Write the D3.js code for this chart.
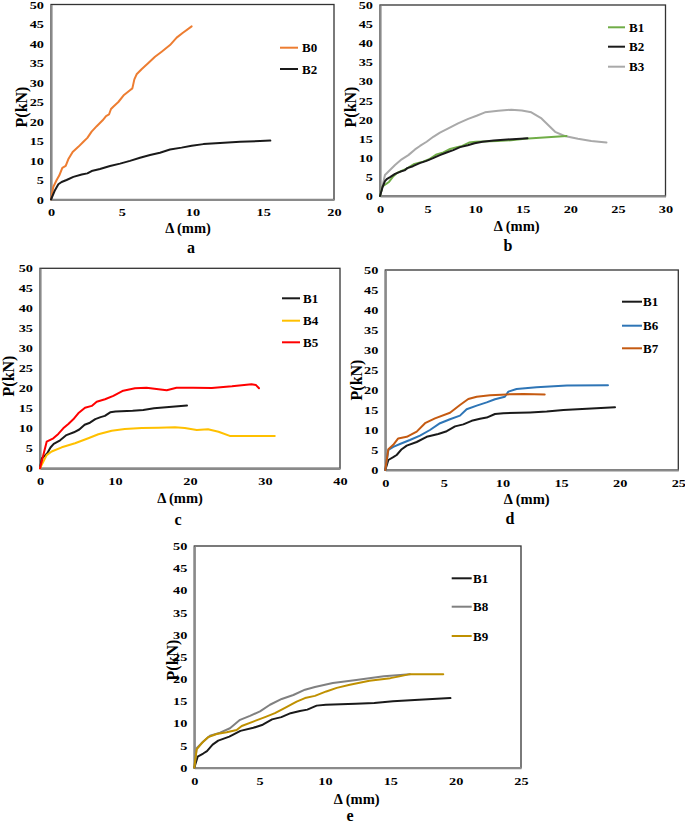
<!DOCTYPE html>
<html><head><meta charset="utf-8">
<script src="https://cdn.jsdelivr.net/npm/d3@7"></script>
<style>
body{margin:0;background:#fff}
svg{display:block}
text{font-family:"Liberation Serif","Times New Roman","DejaVu Serif",serif;font-weight:bold;fill:#000}
</style>
</head><body>
<svg id="chart" width="685" height="824"></svg>
<script>
// ---------- data ----------
const yTicks = [0,5,10,15,20,25,30,35,40,45,50];
const xTicksA = [0,5,10,15,20];
const xTicksB = [0,5,10,15,20,25,30];
const xTicksC = [0,10,20,30,40];
const xTicksD = [0,5,10,15,20,25];
const xTicksE = [0,5,10,15,20,25];
const panelLabels = ["a","b","c","d","e"];
const xTitle = "Δ (mm)";
const yTitle = "P(kN)";

const B0 = [[0,0],[0.16,3.2],[0.4,5],[0.59,6.2],[0.8,8.1],[1.04,8.6],[1.22,10.3],[1.53,12.2],[1.93,13.5],[2.29,14.8],[2.57,15.8],[2.87,17.4],[3.23,18.8],[3.65,20.3],[3.89,21.4],[4.1,21.8],[4.24,23.2],[4.4,23.8],[4.76,25],[5.16,26.8],[5.58,28],[5.75,28.5],[5.89,30.8],[6.05,32.1],[6.4,33.4],[6.88,35],[7.35,36.6],[7.82,37.9],[8.41,39.6],[8.88,41.5],[9.3,42.7],[9.94,44.4]];
const B1 = [[0,0],[0.26,2.5],[0.68,3.2],[0.97,3.75],[1.4,5.2],[1.83,6.1],[2.68,7.0],[3.53,8.3],[4.52,9.0],[5.24,9.7],[5.95,10.9],[6.66,11.4],[7.37,12.3],[8.08,12.8],[8.65,13.1],[9.36,14.0],[10.07,14.2],[12.35,14.4],[13.77,14.6],[15.2,15.0],[17.2,15.3],[19.6,15.7]];
const B2 = [[0,0],[0.28,2.4],[0.52,3.9],[0.75,4.5],[1.1,5.0],[1.58,5.8],[2.17,6.4],[2.57,6.7],[2.87,7.3],[3.46,7.8],[4.17,8.6],[4.88,9.2],[5.58,9.9],[6.29,10.7],[7.0,11.4],[7.7,12.0],[8.41,12.8],[9.23,13.3],[9.94,13.8],[10.77,14.2],[11.94,14.5],[13.36,14.8],[14.77,15.0],[15.5,15.1]];
const B3 = [[0,0],[0.25,2.4],[0.52,5.5],[1.05,6.8],[1.58,8.1],[2.28,9.6],[2.98,10.7],[3.68,12.2],[4.2,13.1],[4.9,14.2],[5.6,15.5],[6.3,16.6],[7.18,17.7],[8.2,19.0],[9.27,20.2],[10.15,21.0],[11.03,21.9],[12.43,22.3],[13.8,22.6],[14.9,22.4],[15.9,21.9],[16.97,20.3],[17.67,18.6],[18.4,16.8],[19.4,15.7],[20.8,15.0],[22.2,14.4],[23.8,14.0]];
const B4 = [[0,0],[0.89,3.3],[1.56,4.2],[2.9,5.25],[4.67,6.25],[6.44,7.5],[7.78,8.5],[9.56,9.4],[11.3,9.8],[13.56,10.1],[15.8,10.15],[18,10.25],[19.3,10.1],[20.9,9.6],[22.4,9.75],[23.8,9.15],[25.3,8.1],[26.9,8.1],[31.3,8.1]];
const B5 = [[0,0],[0.89,6.65],[1.78,7.5],[2.44,8.6],[3.1,10],[3.78,11.1],[4.44,12.25],[5.1,13.75],[6.0,15.15],[6.9,15.6],[7.56,16.65],[8.67,17.25],[9.78,18.1],[11.1,19.4],[12.67,20],[14.2,20.15],[15.8,19.75],[16.9,19.5],[18.2,20.15],[20.4,20.15],[22.9,20.1],[25.6,20.5],[28.2,21],[28.8,20.8],[29.2,20]];
const B6 = [[0,0],[0.26,5],[0.68,5.8],[1.25,6.5],[2.1,7.5],[2.96,8.6],[3.81,10],[4.67,11.7],[5.52,12.7],[6.37,13.6],[6.94,15.2],[7.8,16.1],[8.65,16.9],[9.36,17.7],[10.2,18.3],[10.5,19.6],[11.2,20.25],[12.9,20.7],[15.5,21.1],[19.0,21.2]];
const B7 = [[0,0],[0.26,5.2],[0.68,6.3],[1.1,7.9],[1.83,8.3],[2.68,9.6],[3.39,11.7],[4.24,12.9],[5.52,14.3],[6.37,16.25],[7.08,17.75],[7.8,18.3],[8.93,18.7],[10.36,18.9],[11.8,19],[13.6,18.9]];
const B8 = [[0,0],[0.18,4.4],[0.69,5.9],[1.2,7.2],[1.97,7.9],[2.73,8.9],[3.5,10.8],[4.26,11.7],[5.03,12.7],[5.79,14.2],[6.69,15.5],[7.58,16.4],[8.47,17.6],[9.23,18.2],[10.6,19.1],[12.4,19.8],[14.5,20.6],[16.5,21.1]];
const B9 = [[0,0],[0.18,4.15],[0.56,5.5],[1.07,6.9],[1.71,7.6],[2.48,8.0],[3.24,8.5],[3.63,9.4],[4.51,10.4],[5.41,11.4],[6.17,12.3],[6.94,13.5],[7.83,14.9],[8.47,15.7],[9.23,16.2],[10.1,17.2],[10.9,18],[11.9,18.7],[13.4,19.6],[15,20.2],[15.7,20.6],[16.5,21.1],[19.05,21.1]];

// ---------- layout ----------
const panels = [
  {label:panelLabels[0], xd:[0,20], xt:xTicksA, L:51, R:334, T:4.5, B:199.5,
   series:[{n:"B0",d:B0,c:"#ED7D31"},{n:"B2",d:B2,c:"#1a1a1a"}],
   leg:{x1:280,x2:298,tx:302,ys:[47.7,69]}, xtl:[188,228], ytl:[21,107], pl:[191,247]},
  {label:panelLabels[1], xd:[0,30], xt:xTicksB, L:380, R:665.5, T:5, B:196,
   series:[{n:"B1",d:B1,c:"#70AD47"},{n:"B2",d:B2,c:"#1a1a1a"},{n:"B3",d:B3,c:"#A9A9A9"}],
   order:[2,0,1],
   leg:{x1:608,x2:625,tx:629,ys:[27.3,46.7,66.7]}, xtl:[516.7,226], ytl:[350,107], pl:[508,245]},
  {label:panelLabels[2], xd:[0,40], xt:xTicksC, L:40, R:340, T:268.3, B:468.3,
   series:[{n:"B1",d:B1,c:"#1a1a1a"},{n:"B4",d:B4,c:"#FFC000"},{n:"B5",d:B5,c:"#FF0000"}],
   leg:{x1:282,x2:300,tx:303,ys:[298.3,320.7,342.3]}, xtl:[180,498], ytl:[8,376], pl:[178,519]},
  {label:panelLabels[3], xd:[0,25], xt:xTicksD, L:385.3, R:678.3, T:270, B:470,
   series:[{n:"B1",d:B1,c:"#1a1a1a"},{n:"B6",d:B6,c:"#2E75B6"},{n:"B7",d:B7,c:"#C55A11"}],
   leg:{x1:622,x2:642,tx:643,ys:[301.7,325.7,348.3]}, xtl:[526.7,499], ytl:[356,380], pl:[510,518]},
  {label:panelLabels[4], xd:[0,25], xt:xTicksE, L:194.3, R:521, T:546, B:767.7,
   series:[{n:"B1",d:B1,c:"#1a1a1a"},{n:"B8",d:B8,c:"#808080"},{n:"B9",d:B9,c:"#BF9000"}],
   leg:{x1:451.7,x2:471.7,tx:473,ys:[578.3,606.7,636]}, xtl:[356.7,799], ytl:[172,660], pl:[350,815]}
];

const svg = d3.select("#chart");
const TS = 1.3; // horizontal stretch of tick labels
const FF = "'Liberation Serif','Times New Roman','DejaVu Serif',serif";

panels.forEach(p => {
  const x = d3.scaleLinear().domain(p.xd).range([p.L, p.R]);
  const y = d3.scaleLinear().domain([0,50]).range([p.B, p.T]);
  const g = svg.append("g");

  // frame
  g.append("rect").attr("x",p.L).attr("y",p.T).attr("width",p.R-p.L).attr("height",p.B-p.T)
    .attr("fill","none").attr("stroke","#333").attr("stroke-width",1.3);

  // axes
  const ax = g.append("g").attr("transform",`translate(0,${p.B})`)
    .call(d3.axisBottom(x).tickValues(p.xt).tickSize(0).tickFormat(d3.format("d")));
  ax.attr("font-family",null).attr("font-size",null);
  ax.select(".domain").attr("stroke","#8a8a8a").attr("stroke-width",2.2);
  ax.selectAll(".tick text").attr("y",null).attr("dy","0.35em")
    .attr("transform",`translate(0,13) scale(${TS},1)`)
    .style("font-size","11px").style("font-family",FF).style("font-weight","bold").attr("fill","#000");

  const ay = g.append("g").attr("transform",`translate(${p.L},0)`)
    .call(d3.axisLeft(y).tickValues(yTicks).tickSize(0).tickFormat(d3.format("d")));
  ay.attr("font-family",null).attr("font-size",null);
  ay.select(".domain").attr("stroke","#8a8a8a").attr("stroke-width",2.2);
  ay.selectAll(".tick text").attr("x",null)
    .attr("transform",`translate(-7,0) scale(${TS},1)`)
    .style("font-size","11px").style("font-family",FF).style("font-weight","bold").attr("fill","#000");

  // lines
  const line = d3.line().x(d=>x(d[0])).y(d=>y(d[1]));
  const order = p.order || p.series.map((s,i)=>i);
  order.forEach(i => {
    const s = p.series[i];
    g.append("path").datum(s.d).attr("d",line).attr("fill","none")
      .attr("stroke",s.c).attr("stroke-width",2).attr("stroke-linejoin","round").attr("stroke-linecap","round");
  });

  // legend
  p.series.forEach((s,i) => {
    const ly = p.leg.ys[i];
    g.append("line").attr("x1",p.leg.x1).attr("x2",p.leg.x2).attr("y1",ly).attr("y2",ly)
      .attr("stroke",s.c).attr("stroke-width",2);
    g.append("text").attr("x",p.leg.tx).attr("y",ly).attr("dy","0.35em")
      .style("font-size","13px").text(s.n);
  });

  // titles
  g.append("text").attr("x",p.xtl[0]).attr("y",p.xtl[1]).attr("dy","0.35em")
    .attr("text-anchor","middle").style("font-size","14.5px").text(xTitle);
  g.append("text").attr("transform",`translate(${p.ytl[0]},${p.ytl[1]}) rotate(-90)`)
    .attr("dy","0.35em").attr("text-anchor","middle").style("font-size","16px").text(yTitle);
  g.append("text").attr("x",p.pl[0]).attr("y",p.pl[1]).attr("dy","0.35em")
    .attr("text-anchor","middle").style("font-size","16px").text(p.label);
});
</script>
</body></html>
